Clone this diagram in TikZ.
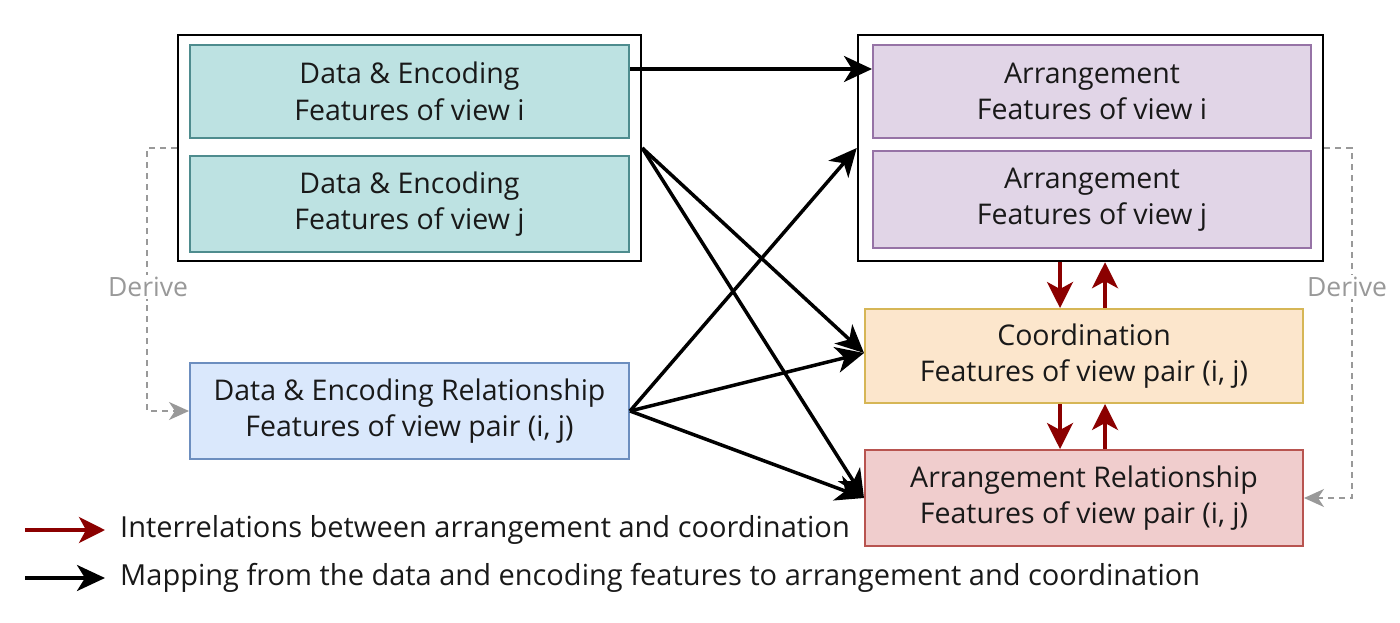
\documentclass[tikz,border=0pt]{standalone}
\usepackage{fontspec}
\setmainfont{Open Sans}
\usetikzlibrary{arrows.meta,calc}
\definecolor{tealfill}{HTML}{BDE2E2}
\definecolor{tealdraw}{HTML}{4E8C8E}
\definecolor{purpfill}{HTML}{E1D5E7}
\definecolor{purpdraw}{HTML}{9673A6}
\definecolor{orfill}{HTML}{FCE6CC}
\definecolor{ordraw}{HTML}{D6B656}
\definecolor{rdfill}{HTML}{F0CDCD}
\definecolor{rddraw}{HTML}{B85450}
\definecolor{blfill}{HTML}{DAE8FC}
\definecolor{bldraw}{HTML}{6C8EBF}
\definecolor{relred}{HTML}{8B0000}
\definecolor{derivegray}{HTML}{999999}
\tikzset{
  featbox/.style={draw, line width=2pt, align=center, inner sep=0pt,
    font=\fontsize{28.5}{36.5}\selectfont, text=black!90},
  outerbox/.style={draw=black, line width=2.5pt, fill=none, inner sep=0pt},
  maparrow/.style={line width=3.5pt, -{Stealth[length=28pt,width=26pt,inset=8pt]}},
  relarrow/.style={line width=3.5pt, relred, -{Stealth[length=26pt,width=26pt,inset=7pt]}},
  derivearrow/.style={line width=1.8pt, derivegray, dash pattern=on 6pt off 5pt,
    -{Stealth[length=20pt,width=18pt,inset=6pt]}},
  derivelabel/.style={fill=white, text=derivegray, font=\fontsize{26.5}{30}\selectfont, inner sep=2pt},
  legendtext/.style={anchor=west, font=\fontsize{29}{34}\selectfont, text=black!90, inner sep=0pt},
}
\begin{document}
\begin{tikzpicture}[x=1pt,y=-1pt]
\useasboundingbox (0,0) rectangle (1400,623);
% outer group boxes
\node[outerbox, minimum width=463pt, minimum height=226pt] (outerL) at (409.5,148) {};
\node[outerbox, minimum width=465pt, minimum height=226pt] (outerR) at (1090.5,148) {};
% left feature boxes
\node[featbox, fill=tealfill, draw=tealdraw, minimum width=439pt, minimum height=93pt] (teal1) at (409.5,91.5) {Data \& Encoding\\Features of view i};
\node[featbox, fill=tealfill, draw=tealdraw, minimum width=439pt, minimum height=96pt] (teal2) at (409.5,204) {Data \& Encoding\\Features of view j};
% right feature boxes
\node[featbox, fill=purpfill, draw=purpdraw, minimum width=438pt, minimum height=93pt] (purp1) at (1092,91.5) {Arrangement\\Features of view i};
\node[featbox, fill=purpfill, draw=purpdraw, minimum width=438pt, minimum height=97pt] (purp2) at (1092,199.5) {Arrangement\\Features of view j};
% pair boxes
\node[featbox, fill=orfill, draw=ordraw, minimum width=438pt, minimum height=94pt] (coord) at (1084,356) {Coordination\\Features of view pair (i, j)};
\node[featbox, fill=rdfill, draw=rddraw, minimum width=438pt, minimum height=96pt] (arrrel) at (1084,498) {Arrangement Relationship\\Features of view pair (i, j)};
\node[featbox, fill=blfill, draw=bldraw, minimum width=439pt, minimum height=96pt] (derel) at (409.5,411) {Data \& Encoding Relationship\\Features of view pair (i, j)};
% derive connectors
\coordinate (dl) at (147,300);
\coordinate (dr) at (1352,300);
\draw[derivearrow] (outerL.west) -| (dl) |- (derel.west);
\draw[derivearrow] (outerR.east) -| (dr) |- (arrrel.east);
\node[derivelabel] (derL) at (148,287) {Derive};
\node[derivelabel] (derR) at (1347,287) {Derive};
% mapping arrows
\draw[maparrow] ([yshift=22.5pt]teal1.east) -- ([yshift=22.5pt]purp1.west);
\draw[maparrow] (outerL.east) -- ([yshift=3pt]coord.west);
\draw[maparrow] (outerL.east) -- (arrrel.west);
\draw[maparrow] (derel.east) -- (outerR.west);
\draw[maparrow] (derel.east) -- ([yshift=3pt]coord.west);
\draw[maparrow] (derel.east) -- (arrrel.west);
% interrelation arrows
\coordinate (xL) at (1060,0);
\coordinate (xR) at (1105,0);
\draw[relarrow] (outerR.south -| xL) -- (coord.north -| xL);
\draw[relarrow] (coord.north -| xR) -- (outerR.south -| xR);
\draw[relarrow] (coord.south -| xL) -- (arrrel.north -| xL);
\draw[relarrow] (arrrel.north -| xR) -- (coord.south -| xR);
% legend
\coordinate (lg1a) at (25,530);
\coordinate (lg1b) at (105,530);
\coordinate (lg2a) at (25,578);
\coordinate (lg2b) at (105,578);
\draw[relarrow] (lg1a) -- (lg1b);
\draw[maparrow] (lg2a) -- (lg2b);
\node[legendtext] (lt1) at (120,530) {Interrelations between arrangement and coordination};
\node[legendtext] (lt2) at (120,578) {Mapping from the data and encoding features to arrangement and coordination};
\end{tikzpicture}
\end{document}
